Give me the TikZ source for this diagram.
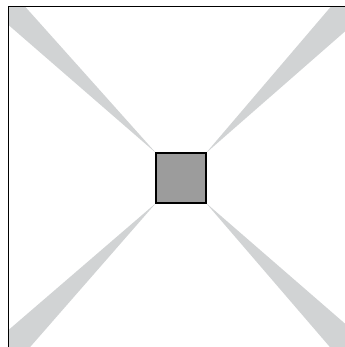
\documentclass[tikz,border=0pt]{standalone}
\usetikzlibrary{backgrounds}
\definecolor{wedgegray}{RGB}{209,211,212}
\definecolor{boxgray}{RGB}{156,156,156}
\begin{document}
\begin{tikzpicture}[x=0.75pt,y=-0.75pt,
  wedge/.style={fill=wedgegray,draw=none},
  framebox/.style={draw=black,line width=1.1pt},
  centerbox/.style={draw=black,fill=boxgray,line width=1.1pt,minimum size=37.5pt,inner sep=0pt,outer sep=0pt}]
\useasboundingbox (0,0) rectangle (345,347);
\clip (0,0) rectangle (345,347);
\coordinate (ftl) at (8.5,6.5);
\coordinate (ftr) at (353.5,6.5);
\coordinate (fbl) at (8.5,349.5);
\coordinate (fbr) at (353.5,349.5);
\node[centerbox] (sq) at (181,178) {};
\begin{pgfonlayer}{background}
\fill[wedge] (sq.north west) -- (25,6.5) -- (ftl) -- (8.5,25) -- cycle;
\fill[wedge] (sq.north east) -- (331,6.5) -- (ftr) -- (353.5,24) -- cycle;
\fill[wedge] (sq.south west) -- (8.5,330) -- (fbl) -- (28,349.5) -- cycle;
\fill[wedge] (sq.south east) -- (353.5,331) -- (fbr) -- (332,349.5) -- cycle;
\draw[framebox] (ftl) rectangle (fbr);
\end{pgfonlayer}
\end{tikzpicture}
\end{document}
